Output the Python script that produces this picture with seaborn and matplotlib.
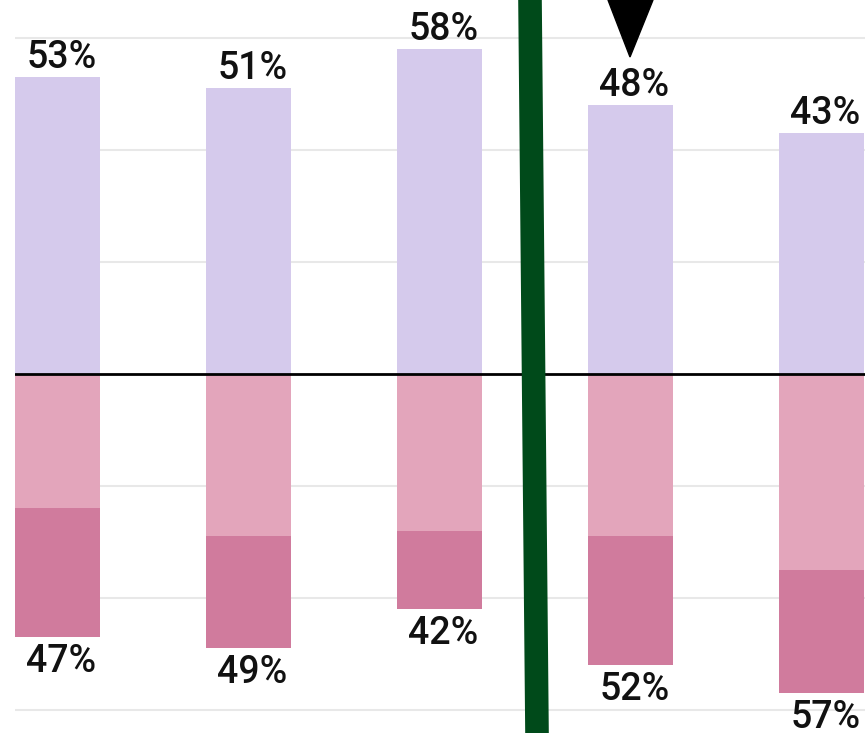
import matplotlib
matplotlib.use("Agg")
import matplotlib.pyplot as plt
import pandas as pd
import seaborn as sns
from matplotlib.patches import Polygon
from matplotlib.lines import Line2D

# chart values
groups = ["G1", "G2", "G3", "G4", "G5"]
upper_pct = [53, 51, 58, 48, 43]
lower_pct = [47, 49, 42, 52, 57]
lower_light_pct = [24, 29, 28, 29, 35]

PURPLE = "#d5caec"
PINK_LIGHT = "#e3a5bb"
PINK_DARK = "#d07b9d"
GREEN = "#004a1a"

sns.set_style("white")
plt.rcParams["font.family"] = ["Roboto", "DejaVu Sans"]

df = pd.DataFrame({
    "group": groups,
    "up": upper_pct,
    "down": [-v for v in lower_pct],
    "down_light": [-v for v in lower_light_pct],
})

fig = plt.figure(figsize=(8.65, 7.33), dpi=100)
# axes runs off the right edge, as in the cropped reference
ax = fig.add_axes([15 / 865, 0, 1 - 15 / 865, 1])

bw = 0.445
for col, c in [("up", PURPLE), ("down", PINK_DARK), ("down_light", PINK_LIGHT)]:
    sns.barplot(data=df, x="group", y=col, color=c, saturation=1, width=bw,
                linewidth=0, ax=ax)

ax.set_xlim(-bw / 2, (865 - 57.5) / 191)
ax.set_ylim(-(733 - 374) / 5.6, 374 / 5.6)

for y in [-60, -40, -20, 20, 40, 60]:
    ax.axhline(y, color="#e8e8e8", lw=1.5, zorder=0)
ax.axhline(0, color="black", lw=2, zorder=3)

for i, (u, d) in enumerate(zip(upper_pct, lower_pct)):
    ax.text(i + 0.02, u + 0.3, f"{u}%", ha="center", va="bottom", fontsize=27,
            fontweight="medium", color="#111111")
    ax.text(i + 0.02, -d - 1.0, f"{d}%", ha="center", va="top", fontsize=27,
            fontweight="medium", color="#111111")

ax.set_xlabel("")
ax.set_ylabel("")
ax.set_xticks([])
ax.set_yticks([])
for s in ax.spines.values():
    s.set_visible(False)

# overlay marks: divider line and pointer
fig.add_artist(Line2D([530 / 865, 537 / 865], [1, 0], color=GREEN, lw=17, transform=fig.transFigure))
fig.add_artist(Polygon([[608 / 865, 1], [653 / 865, 1], [630 / 865, 1 - 57 / 733]],
                       closed=True, color="black", transform=fig.transFigure))

fig.savefig("out.png", dpi=100)
